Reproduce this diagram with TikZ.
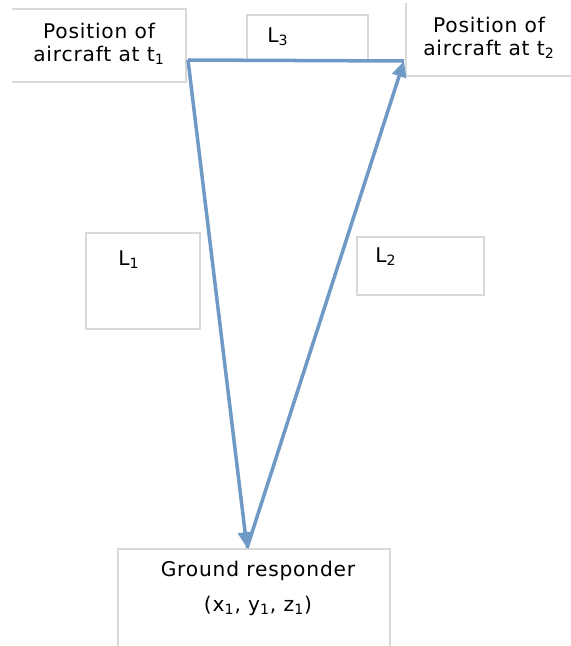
\documentclass[tikz,border=0pt]{standalone}
\usepackage{fontspec}
\setmainfont{DejaVu Sans}[LetterSpace=4]
\usepackage{tikz}
\usetikzlibrary{arrows.meta, positioning}
\definecolor{rayblue}{RGB}{111,154,198}
\definecolor{boxgray}{RGB}{217,217,217}

\begin{document}
\begin{tikzpicture}[x=0.02cm, y=-0.02cm,
  lbl/.style={font=\fontsize{11.5}{13}\selectfont, align=center, inner sep=0pt},
  frame/.style={draw=boxgray, line width=0.6pt},
  ray/.style={rayblue, line width=2pt}]
  \useasboundingbox (0,0) rectangle (571,646);

  % Label frames (some are cut by the edge)
  \draw[frame] (12,9) -- (186,9) -- (186,82) -- (12,82);
  \draw[frame] (247,60) -- (247,15) -- (368,15) -- (368,60);
  \draw[frame] (406,3) -- (406,76) -- (571,76);
  \draw[frame] (86,233) rectangle (200,329);
  \draw[frame] (357,237) rectangle (484,295);
  \draw[frame] (118,646) -- (118,549) -- (390,549) -- (390,646);

  % Texts
  \node[lbl] (pos1) at (99,44) {Position of\\aircraft at t\textsubscript{1}};
  \node[lbl] (pos2) at (489,38) {Position of\\aircraft at t\textsubscript{2}};
  \node[lbl] (l3) at (278,37) {L\textsubscript{3}};
  \node[lbl] (l1) at (129,260) {L\textsubscript{1}};
  \node[lbl] (l2) at (386,257) {L\textsubscript{2}};
  \node[lbl] (ground) at (258,571) {Ground responder};
  \node[lbl, below=20pt of ground.center, anchor=center] (coords) {(x\textsubscript{1}, y\textsubscript{1}, z\textsubscript{1})};

  % Triangle of ranges
  \coordinate (a1) at (188,60);
  \coordinate (a2) at (404,61);
  \coordinate (gr) at (247,548);
  \draw[ray] (a1) -- (a2);
  \draw[ray, -{Triangle[length=9pt, width=8pt]}] (a1) -- (gr);
  \draw[ray, -{Triangle[length=9pt, width=8pt]}] (gr) -- (a2);
\end{tikzpicture}
\end{document}
